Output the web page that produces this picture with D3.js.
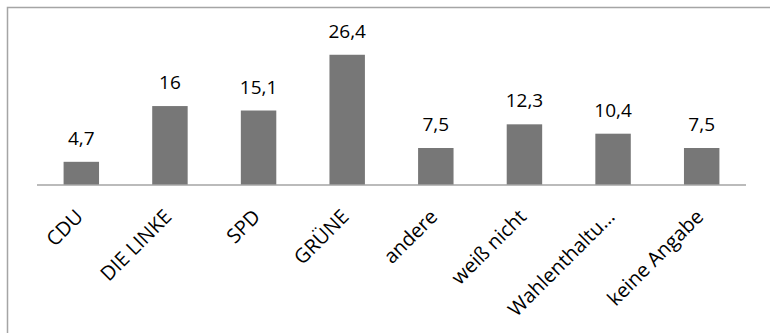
<!DOCTYPE html>
<meta charset="utf-8">
<script src="https://d3js.org/d3.v7.min.js"></script>
<style>
  body { margin: 0; background: #fff; }
  text { font-family: "Open Sans", sans-serif; fill: #000; }
</style>
<div id="chart"></div>
<script>

var categories = ["CDU", "DIE LINKE", "SPD", "GRÜNE", "andere", "weiß nicht", "Wahlenthaltu…", "keine Angabe"];
var values = [4.7, 16, 15.1, 26.4, 7.5, 12.3, 10.4, 7.5];
var valueLabels = ["4,7", "16", "15,1", "26,4", "7,5", "12,3", "10,4", "7,5"];

var width = 770, height = 333;

var svg = d3.select("#chart")
  .append("svg")
    .attr("width", width)
    .attr("height", height);

// outer frame (right and bottom edges fall outside the picture)
svg.append("rect")
  .attr("x", 7.5).attr("y", 7.5)
  .attr("width", 800).attr("height", 400)
  .attr("fill", "none")
  .attr("stroke", "#a5a5a5")
  .attr("stroke-width", 1.5);

var x = d3.scaleBand()
  .domain(categories)
  .range([37, 746])
  .paddingInner(0.6)
  .paddingOuter(0.3);

var y = d3.scaleLinear()
  .domain([0, 30])
  .range([185, 37]);

svg.append("g")
  .selectAll("rect")
  .data(values)
  .enter()
  .append("rect")
    .attr("x", function(d, i) { return x(categories[i]); })
    .attr("y", function(d) { return y(d); })
    .attr("width", x.bandwidth())
    .attr("height", function(d) { return y(0) - y(d); })
    .attr("fill", "#777777");

// axis line
svg.append("line")
  .attr("x1", 37).attr("x2", 746)
  .attr("y1", y(0)).attr("y2", y(0))
  .attr("stroke", "#a5a5a5")
  .attr("stroke-width", 1.5);

svg.append("g")
  .selectAll("text")
  .data(values)
  .enter()
  .append("text")
    .attr("x", function(d, i) { return x(categories[i]) + x.bandwidth() / 2; })
    .attr("y", function(d) { return y(d) - 17; })
    .attr("text-anchor", "middle")
    .style("font-size", "19px")
    .text(function(d, i) { return valueLabels[i]; });

svg.append("g")
  .selectAll("text")
  .data(categories)
  .enter()
  .append("text")
    .attr("text-anchor", "end")
    .attr("transform", function(d) {
      var cx = x(d) + x.bandwidth() / 2 + 3;
      return "translate(" + cx + "," + 218 + ") rotate(-45)";
    })
    .style("font-size", "20px")
    .text(function(d) { return d; });

</script>
